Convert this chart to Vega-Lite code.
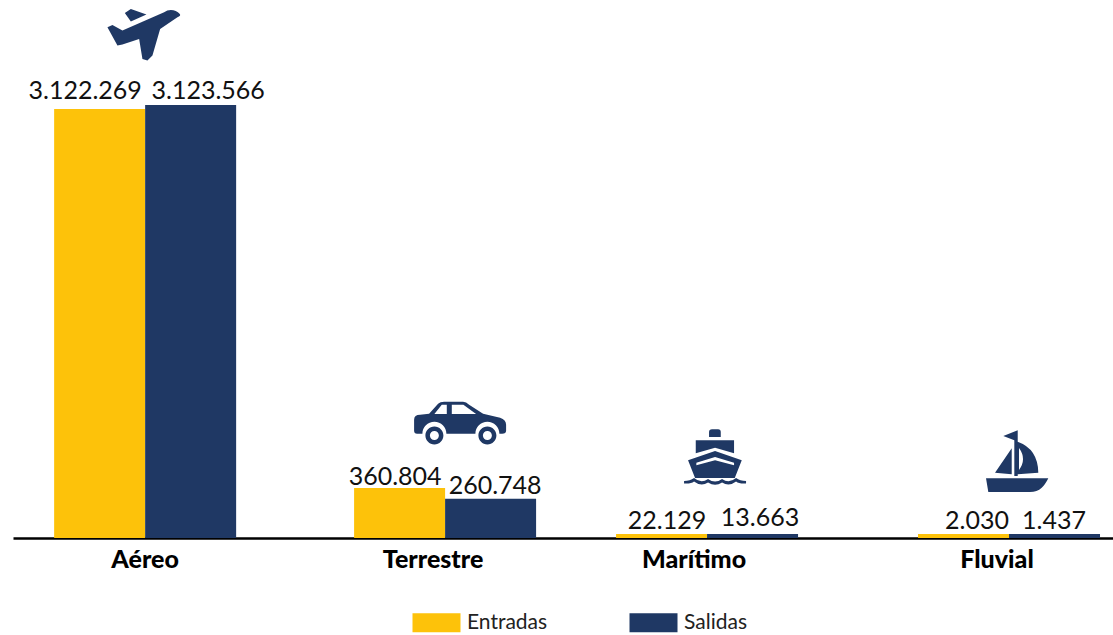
{
"$schema":"https://vega.github.io/schema/vega-lite/v6.json",
"autosize":{"type":"none"},
"width":1100,"height":538,
"padding":{"left":13,"top":0,"right":0,"bottom":97},
"background":"white",
"config":{"view":{"stroke":null}},
"params":[
{"name":"dMode","expr":"{'Aéreo':0,'Terrestre':12,'Marítimo':-14,'Fluvial':0}"},
{"name":"dLabel","expr":"{'Aéreo|Entradas':-60,'Aéreo|Salidas':63,'Terrestre|Entradas':-38,'Terrestre|Salidas':62,'Marítimo|Entradas':-54,'Marítimo|Salidas':39,'Fluvial|Entradas':-32,'Fluvial|Salidas':45}"},
{"name":"dyLabel","expr":"{'Aéreo|Entradas':-18,'Aéreo|Salidas':-14,'Terrestre|Entradas':-11,'Terrestre|Salidas':-13,'Marítimo|Entradas':-13,'Marítimo|Salidas':-16,'Fluvial|Entradas':-13,'Fluvial|Salidas':-13}"},
{"name":"dIcon","expr":"{'Aéreo':-1,'Terrestre':15,'Marítimo':8,'Fluvial':8}"},
{"name":"dyIcon","expr":"{'Aéreo':-70,'Terrestre':-76,'Marítimo':-77,'Fluvial':-71}"},
{"name":"dAxis","expr":"{'Aéreo':0,'Terrestre':0,'Marítimo':-27,'Fluvial':-12}"}
],
"data":{"values":[
{"modo":"Aéreo","serie":"Entradas","valor":3094500,"etiqueta":"3.122.269"},
{"modo":"Aéreo","serie":"Salidas","valor":3123566,"etiqueta":"3.123.566"},
{"modo":"Terrestre","serie":"Entradas","valor":360804,"etiqueta":"360.804"},
{"modo":"Terrestre","serie":"Salidas","valor":282600,"etiqueta":"260.748"},
{"modo":"Marítimo","serie":"Entradas","valor":29000,"etiqueta":"22.129"},
{"modo":"Marítimo","serie":"Salidas","valor":29000,"etiqueta":"13.663"},
{"modo":"Fluvial","serie":"Entradas","valor":29000,"etiqueta":"2.030"},
{"modo":"Fluvial","serie":"Salidas","valor":29000,"etiqueta":"1.437"}
]},
"encoding":{
"x":{"field":"modo","type":"nominal","sort":["Aéreo","Terrestre","Marítimo","Fluvial"],
"scale":{"paddingInner":0.368,"paddingOuter":0.094,"align":0.76},
"axis":{"title":null,"ticks":false,"labels":false,"domainColor":"#000000","domainWidth":2.5}},
"y":{"field":"valor","type":"quantitative","stack":null,"scale":{"domain":[0,3880000],"nice":false},"axis":null}
},
"layer":[
{"mark":{"type":"bar","width":91,"xOffset":{"expr":"dMode[datum.modo]+(datum.serie==='Entradas'?-45.5:45.5)"}},
"encoding":{"color":{"field":"serie","type":"nominal","scale":{"domain":["Entradas","Salidas"],"range":["#FDC20A","#1F3864"]},
"legend":{"title":null,"orient":"none","direction":"horizontal","legendX":413,"legendY":612,"symbolType":"M-24,-9.5H24V9.5H-24Z","symbolSize":4,"symbolOpacity":1,"labelFont":"Lato","labelFontSize":21,"labelColor":"#222222","labelOffset":20,"columnPadding":81}}}},
{"mark":{"type":"text","font":"Lato","fontSize":25,"color":"#111111","baseline":"middle","dx":{"expr":"dLabel[datum.modo+'|'+datum.serie]"},"dy":{"expr":"dyLabel[datum.modo+'|'+datum.serie]"}},
"encoding":{"text":{"field":"etiqueta"}}},
{"transform":[{"filter":"datum.serie==='Salidas'"}],
"mark":{"type":"text","font":"Lato","fontSize":25,"fontWeight":900,"color":"#000000","baseline":"middle","dy":22,"dx":{"expr":"dAxis[datum.modo]"}},
"encoding":{"y":{"datum":0},"text":{"field":"modo"}}},
{"transform":[{"filter":"datum.serie==='Salidas'"}],
"mark":{"type":"point","filled":true,"size":4,"opacity":1,"color":"#1F3864","strokeWidth":0,"xOffset":{"expr":"dMode[datum.modo]+dIcon[datum.modo]"},"yOffset":{"expr":"dyIcon[datum.modo]"}},
"encoding":{"shape":{"field":"modo","type":"nominal","legend":null,"scale":{"domain":["Aéreo","Terrestre","Marítimo","Fluvial"],"range":[
"M35.7,-21 Q32,-25 26.7,-25 Q23,-25 20,-22.7 L-21.7,-4.3 L-31.7,-10 L-36.7,-7.7 L-26.7,10.7 L-21.7,9.7 L-5,4 L-1.7,24 L3.3,25.7 L8.3,20.7 L16,-6 L33.3,-17.7 Q37,-19 35.7,-21 Z M-19.3,-22 L-13.3,-26 L2.3,-20.3 L-13.3,-13.3 Z",
"M-46,-3 Q-46,-8 -40,-8 L-31,-9 L-22,-19 Q-20,-21 -16,-21 L3,-21 Q6,-21 9,-18 L23,-9 L40,-5 Q46,-3 46,2 L46,8 Q46,11 42,11 L39.3,11 A12,12 0 0 0 15.3,11 L-13.7,11 A12,12 0 0 0 -37.7,11 L-43,11 Q-46,11 -46,8 Z M-25.7,-8.7 L-13.3,-8.7 L-13.3,-18 L-18.3,-18 Z M-8.3,-8.7 L16,-8.7 L3.3,-18 L-8.3,-18 Z M-7,-3 L-1,-3 Q0,-2 -1,-0.5 L-7,-0.5 Q-8,-2 -7,-3 Z M-34.7,12.7 A9,9 0 1 1 -16.7,12.7 A9,9 0 1 1 -34.7,12.7 Z M-30.2,12.7 A4.5,4.5 0 1 0 -21.2,12.7 A4.5,4.5 0 1 0 -30.2,12.7 Z M18.3,12.7 A9,9 0 1 1 36.3,12.7 A9,9 0 1 1 18.3,12.7 Z M22.8,12.7 A4.5,4.5 0 1 0 31.8,12.7 A4.5,4.5 0 1 0 22.8,12.7 Z",
"M-6,-20 L-6,-25 Q-6,-27.7 -3,-27.7 L3,-27.7 Q5.7,-27.7 5.7,-25 L5.7,-20 Z M-19.3,-16.7 L19,-16.7 L19,-3.7 L0,-9.3 L-19.3,-3.7 Z M-27,3.3 L0,-6 L26.7,3.3 L19.7,21 L-20,21 Z M-18.7,5.7 L-18.7,8.3 L0,3.3 L19,8.3 L19,5.7 L0,0 Z M-31,24 Q-25,24 -21,21 Q-14,27 -7,22 Q0,27 7,22 Q14,27 21,21 Q25,24 31,24 L31,26.5 Q24,27 21,24.5 Q14,30 7,25.5 Q0,30 -7,25.5 Q-14,30 -21,24.5 Q-24,27 -31,26.5 Z",
"M-31,15.3 L31.3,15.3 Q28,22 24.7,24.7 Q20,29 13,29 L-28.7,29 Z M-2.7,13 L-2.7,-22.7 L-13.7,-27 L0.7,-32.7 L0.7,13 Z M-5.3,-14.7 L-5.3,11.3 L-22,9.7 Z M0.7,-21.3 Q21,-14 21.3,9.7 L0.7,11.3 Z M2,-15 L2,7 Q10,-4 2,-15 Z"
]}}}}
]
}
